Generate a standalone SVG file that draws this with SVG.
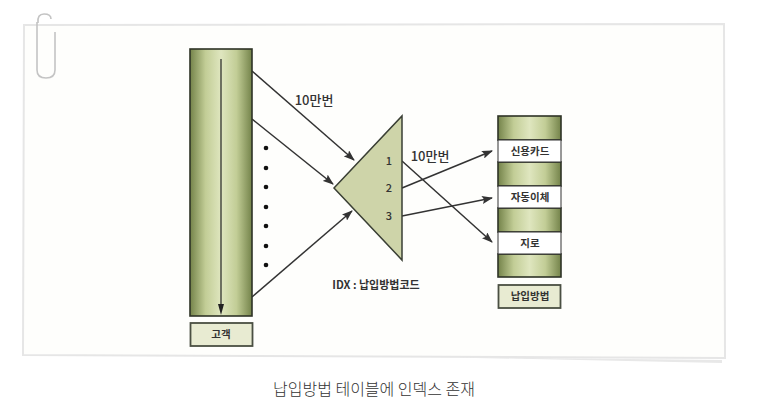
<svg xmlns="http://www.w3.org/2000/svg" width="757" height="414" viewBox="0 0 757 414">
<style>
text{font-family:"Noto Sans CJK KR","Liberation Sans",sans-serif;fill:#333;text-anchor:middle}
.b{font-size:10.500px;font-weight:700}
.l{font-size:13px;font-weight:500}
.n{font-size:11px;font-weight:500}
.box{fill:#e8ebd2;stroke:#4a4f42;stroke-width:1.8}
.wht{fill:#fff;stroke:#333;stroke-width:1}
.seg{fill:url(#grad);stroke:#2e3326;stroke-width:1.6}
.ln{stroke:#333;stroke-width:1.500;fill:none;marker-end:url(#ah)}
</style>
<defs>
<linearGradient id="grad" x1="0" x2="1" y1="0" y2="0">
<stop offset="0" stop-color="#74834a"/><stop offset=".25" stop-color="#c2cd96"/><stop offset=".5" stop-color="#dfe6bf"/><stop offset=".75" stop-color="#c2cd96"/><stop offset="1" stop-color="#74834a"/>
</linearGradient>
<marker id="ah" markerWidth="11" markerHeight="8" refX="10" refY="4" orient="auto" markerUnits="userSpaceOnUse"><path d="M0 0L11 4L0 8L2 4Z" fill="#333"/></marker>
</defs>
<rect width="757" height="414" fill="#fff"/>
<g id="paper">
<path d="M430 357L722 360L722 363Z" fill="#e8e8e8"/>
<path d="M24 25L724 24L725 358L23 355Z" fill="#fefefc" stroke="#e6e6e6" stroke-width="2"/>
<path d="M38 23Q37 14 44 14Q51 14 51 19M37 22V70Q37 78 46 78Q55 78 55 70V32" fill="none" stroke="#c4c4c4" stroke-width="1.6"/>
</g>
<g id="connectors">
<path class="ln" d="M252 71L354 160"/>
<path class="ln" d="M252 119L333 184"/>
<path class="ln" d="M252 297L352 211"/>
<path class="ln" d="M402 161L492 242"/>
<path class="ln" d="M402 188L492 151"/>
<path class="ln" d="M402 216L492 198"/>
</g>
<g id="dots" fill="#111"><circle cx="266" cy="148" r="2.300"/><circle cx="266" cy="168" r="2.300"/><circle cx="266" cy="187" r="2.300"/><circle cx="266" cy="207" r="2.300"/><circle cx="266" cy="226" r="2.300"/><circle cx="266" cy="246" r="2.300"/><circle cx="266" cy="265" r="2.300"/></g>
<g id="customer-table">
<rect class="seg" x="190" y="49" width="62" height="267"/>
<path d="M221 59V310" stroke="#222" stroke-width="1.200" fill="none"/><path d="M218 304H224L221 315Z" fill="#222"/>
</g>
<g id="customer-label"><rect class="box" x="190.500" y="323" width="62" height="23"/><text class="b" x="221" y="338">고객</text></g>
<g id="index">
<path d="M334 188L402 116V260Z" fill="#ced4a9" stroke="#3a3f34" stroke-width="1.500"/>
<text class="n" x="389" y="165">1</text><text class="n" x="389" y="192">2</text><text class="n" x="389" y="220">3</text>
</g>
<g id="pay-table">
<rect class="seg" x="498" y="116" width="63" height="24"/>
<rect class="seg" x="498" y="162" width="63" height="24"/>
<rect class="seg" x="498" y="208" width="63" height="24"/>
<rect class="seg" x="498" y="254" width="63" height="23"/>
<g id="card"><rect class="wht" x="498" y="140" width="63" height="22"/><text class="b" x="530" y="155">신용카드</text></g>
<g id="auto"><rect class="wht" x="498" y="186" width="63" height="22"/><text class="b" x="530" y="201">자동이체</text></g>
<g id="giro"><rect class="wht" x="498" y="232" width="63" height="22"/><text class="b" x="530" y="247">지로</text></g>
</g>
<g id="pay-label"><rect class="box" x="498.500" y="285" width="62" height="23"/><text class="b" x="530" y="300">납입방법</text></g>
<g id="labels">
<text class="l" x="314" y="105">10만번</text>
<text class="l" x="430" y="161">10만번</text>
<text class="b" x="376" y="289" style="font-size:11px">IDX : 납입방법코드</text>
<text x="374" y="395" style="font-size:16px;font-weight:300">납입방법 테이블에 인덱스 존재</text>
</g>
</svg>
